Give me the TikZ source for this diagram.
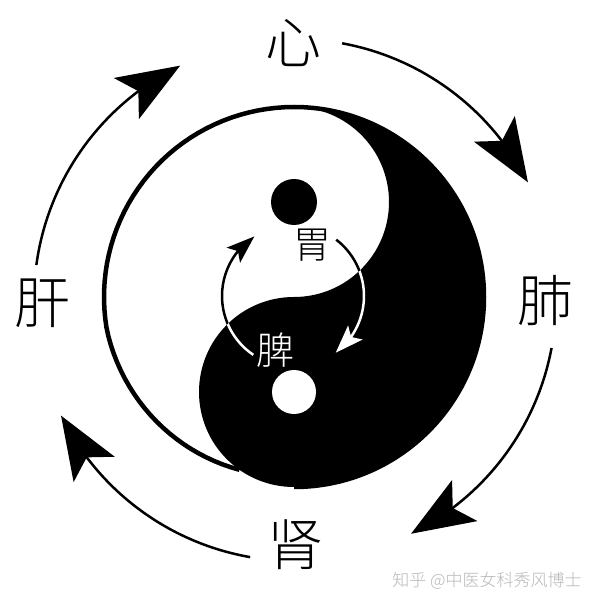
\documentclass[tikz,border=0pt]{standalone}
\usepackage{fontspec}
\newfontfamily\cjk{Noto Sans CJK SC Light}
\usetikzlibrary{arrows.meta,bending}
\begin{document}
\begin{tikzpicture}[x=1pt,y=1pt,
  outerarrow/.style={line width=2.5pt, -{Stealth[length=63pt,width=48pt,inset=14pt,flex]}},
  innerarrow/.style={line width=2.5pt, -{Stealth[length=28pt,width=20pt,inset=6pt,flex]}},
  organ/.style={inner sep=0pt, font=\cjk\fontsize{56}{60}\selectfont},
  innerlabel/.style={inner sep=0pt, font=\cjk\fontsize{38}{40}\selectfont}]
\useasboundingbox[fill=white] (0,0) rectangle (600,606);
\coordinate (C) at (294,309);
\coordinate (T) at (294,499);
\coordinate (O) at (295,306);
\coordinate (I) at (293,310);
% black half
\fill[black] (T) arc[start angle=90,end angle=-90,radius=190]
  arc[start angle=270,end angle=90,radius=95]
  arc[start angle=270,end angle=450,radius=95] -- cycle;
% outline: circle on the right and top, spiralling in on the lower left
\draw[line width=4.5pt] ([shift={(-90:190)}]C) arc[start angle=-90,end angle=90,radius=190]
  -- plot[domain=90:252.5, samples=60] ({294+(190-(\x>190)*0.1408*(\x-190))*cos(\x)}, {309+(190-(\x>190)*0.1408*(\x-190))*sin(\x)});
% dots
\fill[black] (294,404) circle[radius=23];
\fill[white] (294,214) circle[radius=22];
% inner arrows (white on black)
\coordinate (pL) at ([shift={(236:71)}]I);
\coordinate (pR) at ([shift={(52.5:71)}]I);
\draw[innerarrow, white] (pL) arc[start angle=236,end angle=123,radius=71];
\draw[innerarrow, white] (pR) arc[start angle=52.5,end angle=-53,radius=71];
% inner arrows (black on white)
\begin{scope}
\clip (T) arc[start angle=90,end angle=270,radius=190]
  arc[start angle=270,end angle=90,radius=95]
  arc[start angle=270,end angle=450,radius=95] -- cycle;
\draw[innerarrow, black] (pL) arc[start angle=236,end angle=123,radius=71];
\draw[innerarrow, black] (pR) arc[start angle=52.5,end angle=-53,radius=71];
\end{scope}
% labels
\node[innerlabel] (wei) at (312,361) {胃};
\node[innerlabel, text=white] (pi) at (275,256) {脾};
\node[organ] (xin) at (293,563) {心};
\node[organ] (fei) at (545,305) {肺};
\node[organ] (shen) at (295,61) {肾};
\node[organ] (gan) at (42,303) {肝};
% outer arrows
\coordinate (a1) at ([shift={(79.6:261)}]O);
\coordinate (a2) at ([shift={(-10.6:261)}]O);
\coordinate (a3) at ([shift={(260.1:261)}]O);
\coordinate (a4) at ([shift={(172.3:261)}]O);
\draw[outerarrow] (a1) arc[start angle=79.6,end angle=26.8,radius=261];
\draw[outerarrow] (a2) arc[start angle=-10.6,end angle=-63.6,radius=261];
\draw[outerarrow] (a3) arc[start angle=260.1,end angle=206.3,radius=261];
\draw[outerarrow] (a4) arc[start angle=172.3,end angle=116.1,radius=261];
% watermark
\node[inner sep=0pt, text=black!28, font=\cjk\fontsize{17}{18}\selectfont] (wm) at (487,25) {知乎 @中医女科秀风博士};
\end{tikzpicture}
\end{document}
